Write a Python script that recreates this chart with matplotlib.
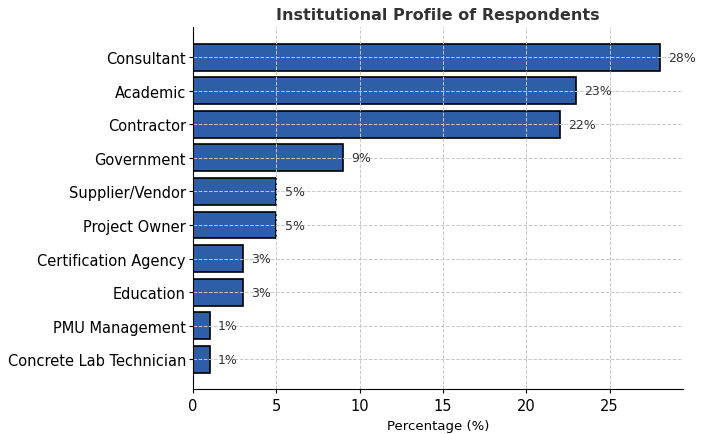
import matplotlib
matplotlib.use("Agg")
import matplotlib.pyplot as plt

# Institutional profile data (percent of respondents)
categories = ["Consultant", "Academic", "Contractor", "Government", "Supplier/Vendor",
              "Project Owner", "Certification Agency", "Education", "PMU Management",
              "Concrete Lab Technician"]
percentages = [28, 23, 22, 9, 5, 5, 3, 3, 1, 1]

fig, ax = plt.subplots(figsize=(7.04, 4.35), dpi=100)

# reverse so the largest sits at the top
bars = ax.barh(categories[::-1], percentages[::-1], color="#2f5ea9",
               edgecolor="black", linewidth=1.2, height=0.8)

for bar, val in zip(bars, percentages[::-1]):
    ax.text(bar.get_width() + 0.5, bar.get_y() + bar.get_height() / 2, f"{val}%",
            va="center", ha="left", fontsize=9, color="#333333")

ax.set_title("Institutional Profile of Respondents", fontsize=11.5, fontweight="bold",
             color="#333333")
ax.set_xlabel("Percentage (%)", fontsize=9.5)
ax.tick_params(axis="y", labelsize=10.5, length=3, pad=2)
ax.tick_params(axis="x", labelsize=10.5, length=3)
ax.grid(True, linestyle="--", color="#c8c8c8", linewidth=0.7)
ax.set_axisbelow(False)
ax.spines["top"].set_visible(False)
ax.spines["right"].set_visible(False)
# keep the axis lines on top of the dashed grid
ax.spines["left"].set_zorder(5)
ax.spines["bottom"].set_zorder(5)

fig.subplots_adjust(left=0.274, right=0.97, top=0.935, bottom=0.103)
fig.savefig("out.png", dpi=100)
